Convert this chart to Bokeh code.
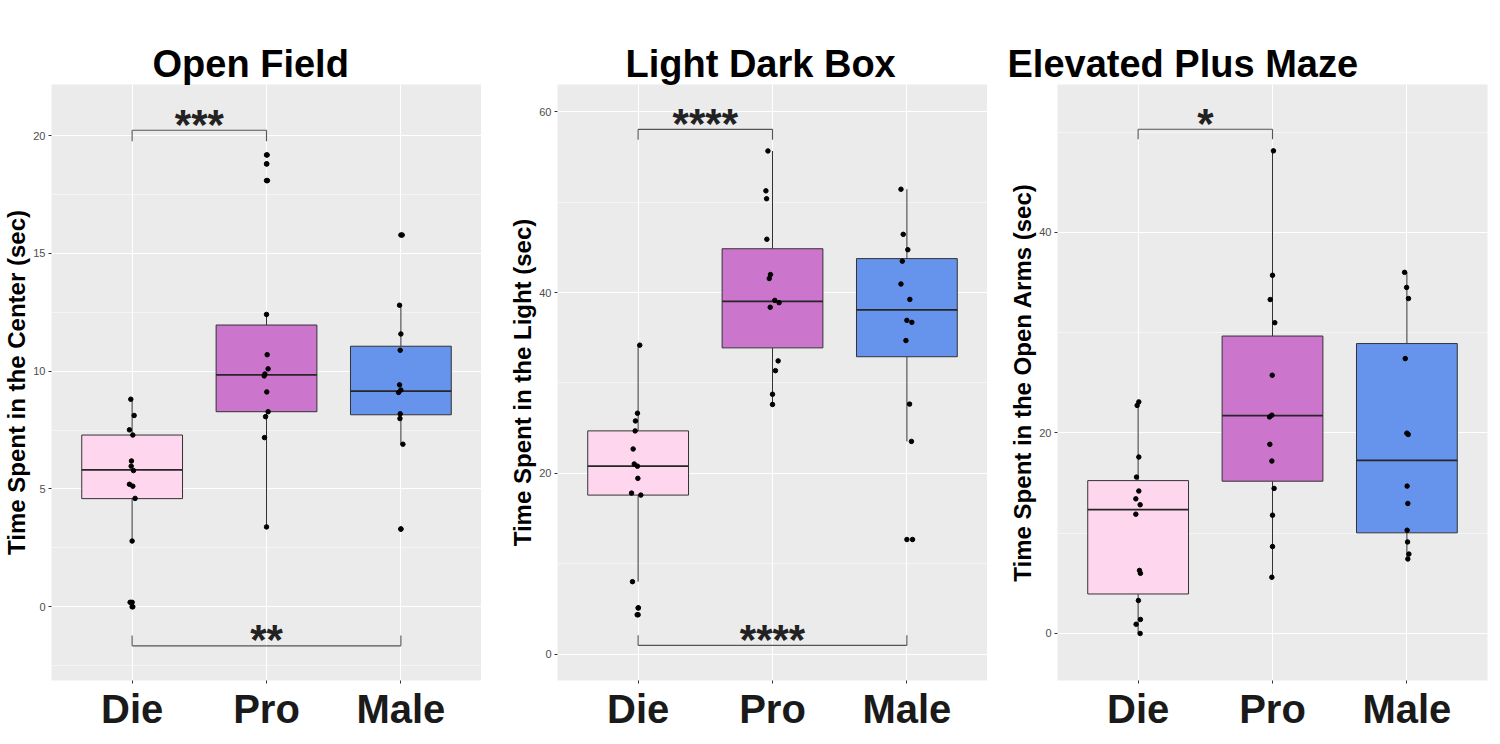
from bokeh.plotting import figure
from bokeh.layouts import row
from bokeh.models import Range1d, FixedTicker, SingleIntervalTicker, LinearAxis, Title
from bokeh.core.properties import value
from bokeh.embed import file_html
from bokeh.resources import INLINE

FONT = "Liberation Sans"

# ---------------- data ----------------
groups = ["Die", "Pro", "Male"]
fills = ["#FED7EF", "#CC75CC", "#6693EB"]

panel_titles = ["Open Field", "Light Dark Box", "Elevated Plus Maze"]
y_labels = ["Time Spent in the Center (sec)", "Time Spent in the Light (sec)",
            "Time Spent in the Open Arms (sec)"]

# Open Field
of_die = [8.81, 8.12, 7.51, 7.29, 6.19, 5.97, 5.78, 5.20, 5.12, 4.60, 2.79, 0.19, 0.00]
of_die_jit = [-0.010, 0.015, -0.020, 0.005, -0.005, -0.007, 0.010, -0.020, 0.005, 0.022, 0.0, -0.015, 0.005]
of_pro = [19.18, 18.80, 18.09, 12.41, 10.70, 10.10, 9.88, 9.80, 9.12, 8.28, 8.07, 7.18, 3.39]
of_pro_jit = [0.005, 0.002, 0.007, 0.0, 0.005, 0.012, -0.012, -0.017, 0.002, 0.012, -0.007, -0.015, 0.0]
of_male = [15.78, 12.80, 11.58, 10.89, 9.42, 9.20, 9.10, 8.19, 7.99, 6.90, 3.30]
of_male_jit = [0.010, -0.010, 0.0, -0.005, -0.010, 0.0, -0.017, -0.005, -0.007, 0.015, 0.0]
of_low = [2.79, 3.39, 6.90]
of_q1 = [4.59, 8.28, 8.15]
of_med = [5.81, 9.84, 9.15]
of_q3 = [7.29, 11.96, 11.06]
of_high = [8.81, 12.41, 12.80]
of_out_group = ["Die", "Die", "Pro", "Pro", "Pro", "Male", "Male"]
of_out_val = [0.19, 0.00, 19.18, 18.80, 18.09, 15.78, 3.30]
of_brackets = [("Die", "Pro", 20.23, 19.76, "***"), ("Die", "Male", -1.66, -1.22, "**")]
of_ylim = (-3.13, 22.17)

# Light Dark Box
ld_die = [34.18, 26.65, 25.80, 24.70, 22.70, 21.04, 20.80, 19.45, 17.82, 17.60, 8.03, 5.13, 4.37]
ld_die_jit = [0.012, -0.005, -0.020, -0.022, -0.037, -0.029, -0.005, -0.002, -0.049, 0.020, -0.042, 0.002, -0.007]
ld_pro = [55.65, 51.24, 50.37, 45.89, 41.98, 41.55, 39.13, 38.88, 38.37, 32.44, 31.36, 28.75, 27.62]
ld_pro_jit = [-0.034, -0.049, -0.044, -0.042, -0.015, -0.024, 0.017, 0.049, -0.017, 0.042, 0.022, 0.0, 0.0]
ld_male = [51.42, 46.43, 44.73, 43.47, 40.94, 39.24, 36.92, 36.70, 34.69, 27.66, 23.54, 12.69]
ld_male_jit = [-0.044, -0.027, 0.007, -0.034, -0.044, 0.022, 0.0, 0.037, -0.007, 0.020, 0.034, 0.042]
ld_low = [8.03, 27.62, 23.54]
ld_q1 = [17.60, 33.88, 32.90]
ld_med = [20.80, 39.03, 38.08]
ld_q3 = [24.70, 44.84, 43.75]
ld_high = [34.18, 55.65, 51.42]
ld_out_group = ["Die", "Die", "Male"]
ld_out_val = [5.13, 4.37, 12.69]
ld_brackets = [("Die", "Pro", 58.04, 56.90, "****"), ("Die", "Male", 0.98, 2.10, "****")]
ld_ylim = (-2.9, 63.0)

# Elevated Plus Maze
ep_die = [23.10, 22.75, 17.60, 15.60, 14.21, 13.43, 12.84, 11.90, 6.29, 6.00, 3.29, 1.40, 0.92, 0.00]
ep_die_jit = [0.005, -0.007, 0.005, -0.012, 0.005, -0.017, 0.015, -0.017, 0.010, 0.017, 0.002, 0.017, -0.015, 0.015]
ep_pro = [48.14, 35.73, 33.31, 31.00, 25.76, 21.78, 21.60, 18.87, 17.20, 14.47, 11.80, 8.67, 5.61]
ep_pro_jit = [0.007, 0.0, -0.017, 0.017, -0.002, -0.005, -0.022, -0.020, -0.005, 0.012, 0.0, 0.0, -0.005]
ep_male = [36.02, 34.52, 33.41, 27.42, 19.98, 19.85, 14.70, 12.97, 10.30, 9.13, 7.92, 7.43]
ep_male_jit = [-0.017, -0.002, 0.012, -0.012, 0.0, 0.010, 0.002, 0.007, 0.002, 0.005, 0.015, 0.007]
ep_low = [0.00, 5.61, 7.43]
ep_q1 = [3.94, 15.19, 10.04]
ep_med = [12.35, 21.74, 17.27]
ep_q3 = [15.25, 29.67, 28.92]
ep_high = [23.10, 48.14, 36.02]
ep_out_group = []
ep_out_val = []
ep_brackets = [("Die", "Pro", 50.29, 49.30, "*")]
ep_ylim = (-4.69, 54.76)

y_intervals = [5, 20, 20]

FRAME_W = 430
FRAME_H = 596


def make_panel(idx, pts, jits, low, q1, med, q3, high, out_g, out_v, brackets, ylim,
               border_left, border_right, title_offset):
    p = figure(frame_width=FRAME_W, frame_height=FRAME_H,
               min_border_left=border_left, min_border_right=border_right,
               min_border_top=84, min_border_bottom=48,
               x_range=Range1d(0.4, 3.6), y_range=Range1d(*ylim),
               output_backend="svg", toolbar_location=None, tools="",
               title=None)

    p.background_fill_color = "#EBEBEB"
    p.border_fill_color = "white"
    p.outline_line_color = None

    xs = [i + 1 for i in range(len(groups))]
    xax = p.xaxis[0]
    yax = p.yaxis[0]
    xax.ticker = FixedTicker(ticks=xs)
    xax.major_label_overrides = {x: g for x, g in zip(xs, groups)}
    xax.major_label_text_font = FONT
    xax.major_label_text_font_size = "40px"
    xax.major_label_text_font_style = "bold"
    xax.major_label_text_color = "#1a1a1a"
    xax.major_label_standoff = 3
    yax.ticker = SingleIntervalTicker(interval=y_intervals[idx], num_minor_ticks=2)
    yax.major_label_text_font = FONT
    yax.major_label_text_font_size = "11px"
    yax.major_label_text_color = "#4D4D4D"
    yax.major_label_standoff = 2
    yax.axis_label = y_labels[idx]
    yax.axis_label_text_font = FONT
    yax.axis_label_text_font_size = "24px"
    yax.axis_label_text_font_style = "bold"
    yax.axis_label_text_color = "black"
    yax.axis_label_standoff = 0
    for ax in (xax, yax):
        ax.axis_line_color = None
        ax.major_tick_line_color = "#333333"
        ax.major_tick_out = 3
        ax.major_tick_in = 0
        ax.minor_tick_line_color = None

    p.xgrid.grid_line_color = "white"
    p.xgrid.grid_line_width = 1.1
    p.ygrid.grid_line_color = "white"
    p.ygrid.grid_line_width = 1.1
    p.ygrid.minor_grid_line_color = "white"
    p.ygrid.minor_grid_line_width = 0.5

    # whiskers
    p.segment(x0=xs, y0=q3, x1=xs, y1=high, line_color="#333333", line_width=1)
    p.segment(x0=xs, y0=q1, x1=xs, y1=low, line_color="#333333", line_width=1)
    # boxes
    p.vbar(x=xs, width=0.75, bottom=q1, top=q3, fill_color=fills,
           line_color="#333333", line_width=1)
    # medians
    p.segment(x0=[x - 0.375 for x in xs], y0=med, x1=[x + 0.375 for x in xs], y1=med,
              line_color="#262626", line_width=1.8)
    # outliers
    if out_v:
        p.scatter(x=[groups.index(g) + 1 for g in out_g], y=out_v, size=4.5, color="black")
    # jittered points
    for gi, (vals, jit) in enumerate(zip(pts, jits)):
        p.scatter(x=[gi + 1 + j for j in jit], y=vals, size=4.5, color="black")
    # significance brackets
    for (g0, g1, yb, yt, stars) in brackets:
        x0 = groups.index(g0) + 1
        x1 = groups.index(g1) + 1
        p.segment(x0=[x0, x0, x1], y0=[yb, yb, yb], x1=[x1, x0, x1], y1=[yb, yt, yt],
                  line_color="#555555", line_width=1.1)
        p.text(x=[(x0 + x1) / 2], y=[yb], text=[stars], text_align="center",
               text_baseline="alphabetic", y_offset=-6,
               text_font=value(FONT), text_font_style="bold",
               text_font_size="42px", text_color="#222222")

    # title, then a blank spacer between it and the panel
    p.add_layout(Title(text=panel_titles[idx], align="left", offset=title_offset,
                       standoff=0, text_font=FONT, text_font_size="38px",
                       text_font_style="bold", text_color="black"), "above")
    spacer = LinearAxis(ticker=FixedTicker(ticks=[]), axis_line_color=None,
                        major_tick_out=40, major_tick_in=0, major_tick_line_color=None,
                        minor_tick_line_color=None, major_label_text_font_size="0px",
                        major_label_standoff=0)
    p.add_layout(spacer, "above")
    return p


p1 = make_panel(0, [of_die, of_pro, of_male], [of_die_jit, of_pro_jit, of_male_jit],
                of_low, of_q1, of_med, of_q3, of_high, of_out_group, of_out_val,
                of_brackets, of_ylim, 47, 0, 101)
p2 = make_panel(1, [ld_die, ld_pro, ld_male], [ld_die_jit, ld_pro_jit, ld_male_jit],
                ld_low, ld_q1, ld_med, ld_q3, ld_high, ld_out_group, ld_out_val,
                ld_brackets, ld_ylim, 76, 0, 68)
p3 = make_panel(2, [ep_die, ep_pro, ep_male], [ep_die_jit, ep_pro_jit, ep_male_jit],
                ep_low, ep_q1, ep_med, ep_q3, ep_high, ep_out_group, ep_out_val,
                ep_brackets, ep_ylim, 70, 1, -50)

layout = row(p1, p2, p3)
open("out.html", "w").write(file_html(layout, INLINE))
